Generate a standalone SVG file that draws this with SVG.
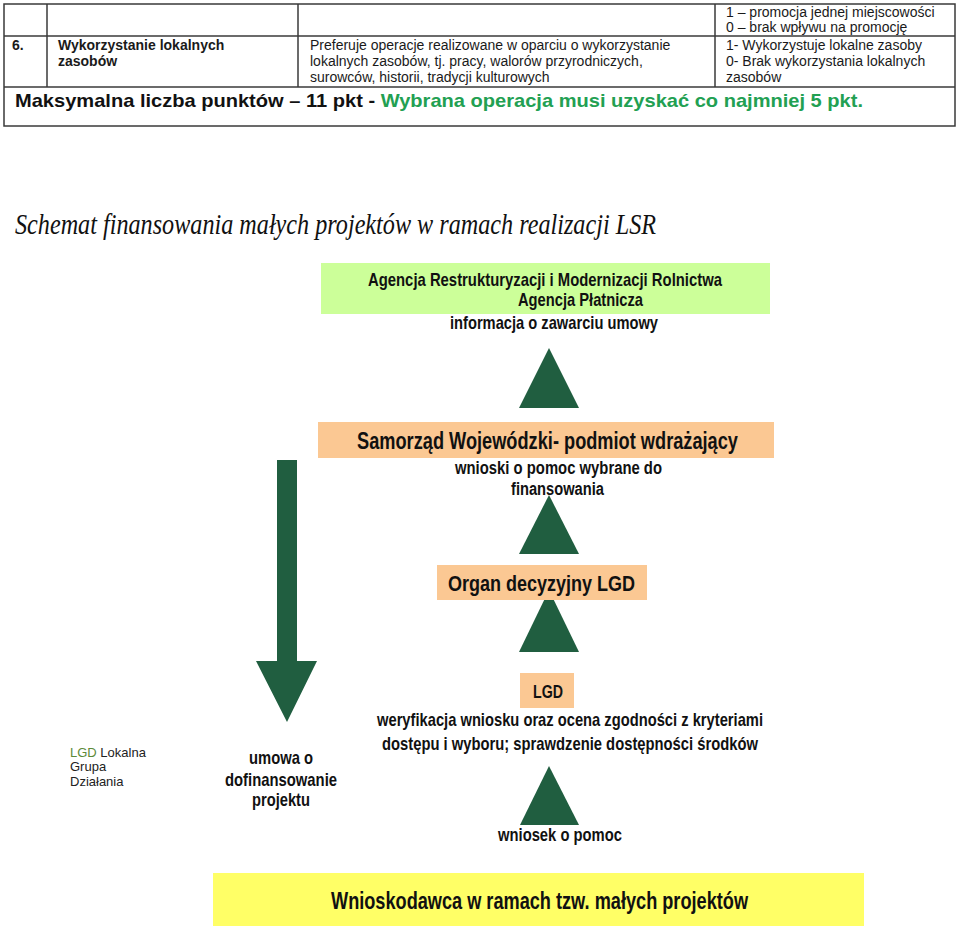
<svg xmlns="http://www.w3.org/2000/svg" width="959" height="933" viewBox="0 0 959 933">
<style>
.tb{font-family:"Liberation Sans",Arial,sans-serif;font-size:14px;fill:#1a1a1a}
.tbb{font-family:"Liberation Sans",Arial,sans-serif;font-size:14px;font-weight:bold;fill:#1a1a1a}
.nb{font-family:"Liberation Sans",Arial,sans-serif;font-weight:bold;fill:#111}
.grid{stroke:#3a3a3a;stroke-width:1.5;fill:none}
.tri{fill:#205e40}
</style>
<rect width="959" height="933" fill="#ffffff"/>
<g id="table">
<rect class="grid" x="4" y="4" width="951" height="122"/>
<line class="grid" x1="4" y1="36" x2="955" y2="36"/>
<line class="grid" x1="4" y1="87" x2="955" y2="87"/>
<line class="grid" x1="47" y1="4" x2="47" y2="87"/>
<line class="grid" x1="298" y1="4" x2="298" y2="87"/>
<line class="grid" x1="715" y1="4" x2="715" y2="87"/>
<text class="tb" x="726" y="17">1 – promocja jednej miejscowości</text>
<text class="tb" x="726" y="32">0 – brak wpływu na promocję</text>
<text class="tbb" x="12" y="50">6.</text>
<text class="tbb" x="58" y="50">Wykorzystanie lokalnych</text>
<text class="tbb" x="58" y="66">zasobów</text>
<text class="tb" x="310" y="50">Preferuje operacje realizowane w oparciu o wykorzystanie</text>
<text class="tb" x="310" y="66">lokalnych zasobów, tj. pracy, walorów przyrodniczych,</text>
<text class="tb" x="310" y="82">surowców, historii, tradycji kulturowych</text>
<text class="tb" x="726" y="50">1- Wykorzystuje lokalne zasoby</text>
<text class="tb" x="726" y="66">0- Brak wykorzystania lokalnych</text>
<text class="tb" x="726" y="82">zasobów</text>
<text class="nb" x="15" y="107" font-size="18.5" textLength="848" lengthAdjust="spacingAndGlyphs">Maksymalna liczba punktów – 11 pkt - <tspan fill="#22a052">Wybrana operacja musi uzyskać co najmniej 5 pkt.</tspan></text>
</g>
<text id="title" x="15" y="234" font-family="Liberation Serif,Times New Roman,serif" font-style="italic" font-size="30" fill="#111" textLength="641" lengthAdjust="spacingAndGlyphs">Schemat finansowania małych projektów w ramach realizacji LSR</text>
<g id="connectors">
<polygon class="tri" points="549,348 579,408 519,408"/>
<polygon class="tri" points="549,495 579,554 519,554"/>
<polygon class="tri" points="549,590 579,652 519,652"/>
<polygon class="tri" points="549,766 579,825 520,825"/>
<polygon class="tri" points="277,460 297,460 297,661 317,661 287,722 256,661 277,661"/>
</g>
<g id="node-arimr">
<rect x="321" y="263" width="449" height="51" fill="#ccff99"/>
<text class="nb" x="368" y="286" font-size="19" textLength="354" lengthAdjust="spacingAndGlyphs">Agencja Restrukturyzacji i Modernizacji Rolnictwa</text>
<text class="nb" x="518" y="306" font-size="19" textLength="125" lengthAdjust="spacingAndGlyphs">Agencja Płatnicza</text>
<text class="nb" x="450" y="329" font-size="19" textLength="208" lengthAdjust="spacingAndGlyphs">informacja o zawarciu umowy</text>
</g>
<g id="node-samorzad">
<rect x="318" y="422" width="456" height="36" fill="#fbc893"/>
<text class="nb" x="357" y="449" font-size="23" textLength="381" lengthAdjust="spacingAndGlyphs">Samorząd Wojewódzki- podmiot wdrażający</text>
<text class="nb" x="455" y="474" font-size="18" textLength="207" lengthAdjust="spacingAndGlyphs">wnioski o pomoc wybrane do</text>
<text class="nb" x="511" y="495" font-size="18" textLength="93" lengthAdjust="spacingAndGlyphs">finansowania</text>
</g>
<g id="node-organ">
<rect x="437" y="565" width="210" height="35" fill="#fbc893"/>
<text class="nb" x="448" y="591" font-size="22" textLength="187" lengthAdjust="spacingAndGlyphs">Organ decyzyjny LGD</text>
</g>
<g id="node-lgd">
<rect x="520" y="673" width="54" height="35" fill="#fbc893"/>
<text class="nb" x="533" y="698" font-size="18" textLength="30" lengthAdjust="spacingAndGlyphs">LGD</text>
<text class="nb" x="377" y="726" font-size="19" textLength="386" lengthAdjust="spacingAndGlyphs">weryfikacja wniosku oraz ocena zgodności z kryteriami</text>
<text class="nb" x="382" y="750" font-size="19" textLength="376" lengthAdjust="spacingAndGlyphs">dostępu i wyboru; sprawdzenie dostępności środków</text>
</g>
<g id="node-wniosek">
<text class="nb" x="498" y="841" font-size="19" textLength="124" lengthAdjust="spacingAndGlyphs">wniosek o pomoc</text>
</g>
<g id="node-umowa">
<text class="nb" x="249" y="764" font-size="19" textLength="64" lengthAdjust="spacingAndGlyphs">umowa o</text>
<text class="nb" x="225" y="786" font-size="19" textLength="112" lengthAdjust="spacingAndGlyphs">dofinansowanie</text>
<text class="nb" x="252" y="806" font-size="19" textLength="58" lengthAdjust="spacingAndGlyphs">projektu</text>
</g>
<g id="legend" font-family="Liberation Sans,Arial,sans-serif" font-size="13" fill="#222">
<text x="70" y="757"><tspan fill="#5b8a3a">LGD</tspan> Lokalna</text>
<text x="70" y="771">Grupa</text>
<text x="70" y="786">Działania</text>
</g>
<g id="node-wnioskodawca">
<rect x="213" y="873" width="651" height="53" fill="#ffff66"/>
<text class="nb" x="331" y="909" font-size="24" textLength="417" lengthAdjust="spacingAndGlyphs">Wnioskodawca w ramach tzw. małych projektów</text>
</g>
</svg>
